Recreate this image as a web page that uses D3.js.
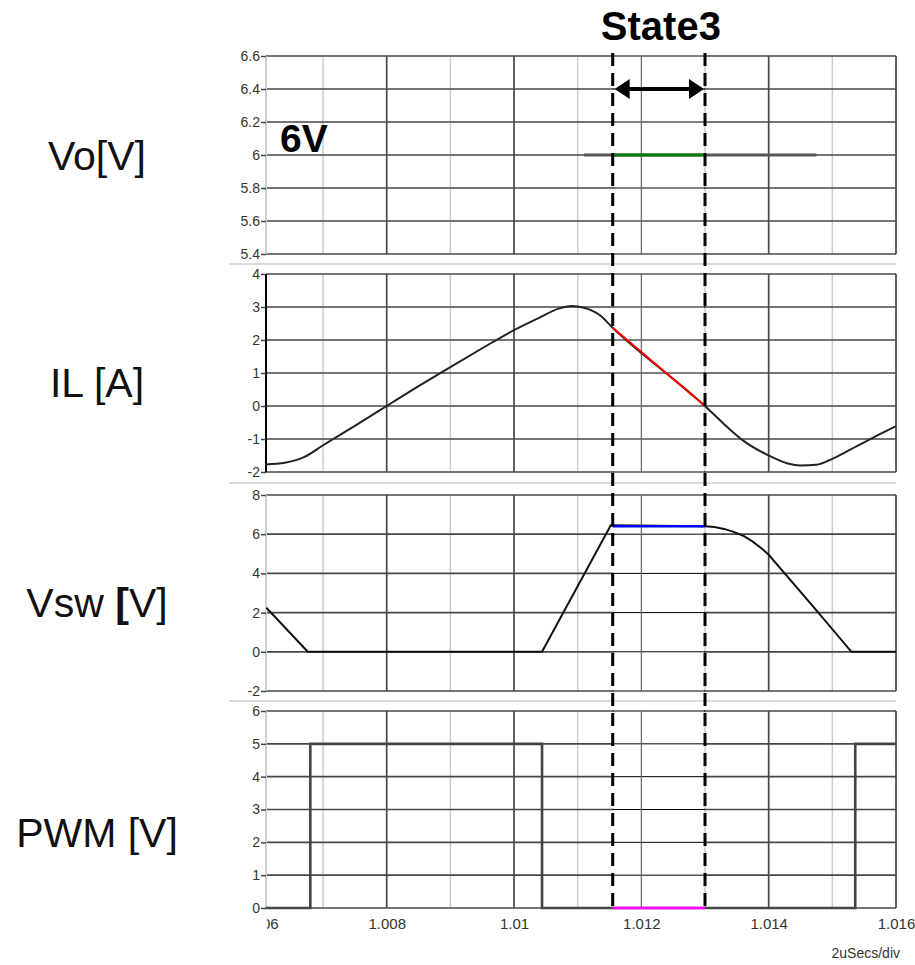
<!DOCTYPE html>
<html><head><meta charset="utf-8">
<script src="https://cdn.jsdelivr.net/npm/d3@7"></script>
<style>body{margin:0;background:#fff}svg{display:block;font-family:"Liberation Sans",Arial,sans-serif}</style>
</head><body><svg id="c" width="915" height="965"></svg>
<script>
// ---- data ----
const xDomain = [1.006104, 1.016];
const xMajor = [1.006, 1.008, 1.010, 1.012, 1.014, 1.016];
const xMajorLabels = ["1.006", "1.008", "1.01", "1.012", "1.014", "1.016"];
const xMinor = [1.007, 1.009, 1.011, 1.013, 1.015];
const stateWindow = [1.01155, 1.013];
const stateLabel = "State3";
const panelLabels = ["Vo[V]", "IL [A]", "Vsw [V]", "PWM [V]"];

const voTicks = [5.4, 5.6, 5.8, 6, 6.2, 6.4, 6.6];
const voTime = [1.0111, 1.01475];
const voValue = [6, 6];
const voStateValue = [6, 6];

const ilTicks = [-2, -1, 0, 1, 2, 3, 4];
const ilTime = [1.00610, 1.00640, 1.00670, 1.00700, 1.00750, 1.00800, 1.00850, 1.00900, 1.00950, 1.01000,
                1.01040, 1.01070, 1.01090, 1.01110, 1.01135, 1.01155, 1.01300, 1.01330, 1.01360, 1.01400,
                1.01430, 1.01450, 1.01475, 1.01500, 1.01540, 1.01570, 1.01600];
const ilValue = [-1.77, -1.72, -1.55, -1.19, -0.60, 0.00, 0.60, 1.18, 1.75, 2.30,
                 2.68, 2.95, 3.03, 2.98, 2.75, 2.37, 0.00, -0.55, -1.05, -1.50,
                 -1.74, -1.80, -1.78, -1.60, -1.20, -0.90, -0.61];
const ilStateValue = [2.37, 0.00];

const vswTicks = [-2, 0, 2, 4, 6, 8];
const vswTime = [1.00611, 1.00676, 1.01044, 1.01152, 1.01300, 1.01315, 1.01330, 1.01345, 1.01360,
                 1.01375, 1.01390, 1.01400, 1.01470, 1.01530, 1.01600];
const vswValue = [2.25, 0.0, 0.0, 6.45, 6.40, 6.37, 6.27, 6.12, 5.92,
                  5.62, 5.25, 4.95, 2.30, 0.0, 0.0];
const vswStateValue = [6.4, 6.4];

const pwmTicks = [0, 1, 2, 3, 4, 5, 6];
const pwmTime = [1.006104, 1.0068, 1.01044, 1.01536, 1.016];
const pwmValue = [0, 5, 0, 5, 5];
const pwmStateValue = [0, 0];

// ---- layout ----
const svg = d3.select("#c");
const X0 = 266, X1 = 896;
const x = d3.scaleLinear().domain(xDomain).range([X0, X1]);

const panels = [
  {ticks: voTicks, top: 56, bottom: 254, border: "#cfcfcf", label: panelLabels[0], lx: 97, ly: 170},
  {ticks: ilTicks, top: 274, bottom: 472, border: "#000", label: panelLabels[1], lx: 97, ly: 397},
  {ticks: vswTicks, top: 495, bottom: 691, border: "#cfcfcf", label: panelLabels[2], lx: 97, ly: 617},
  {ticks: pwmTicks, top: 711, bottom: 908, border: "#cfcfcf", label: panelLabels[3], lx: 97, ly: 847}
];
panels.forEach(p => {
  p.y = d3.scaleLinear().domain(d3.extent(p.ticks)).range([p.bottom, p.top]);
});

// separators
[264, 483, 701].forEach(yy => {
  svg.append("line").attr("x1", 229).attr("x2", X1).attr("y1", yy).attr("y2", yy)
    .attr("stroke", "#dcdcdc").attr("stroke-width", 2);
});

const sx0 = x(stateWindow[0]), sx1 = x(stateWindow[1]);

panels.forEach(p => {
  const g = svg.append("g");
  g.selectAll(".mn").data(xMinor).enter().append("line")
    .attr("x1", d => x(d)).attr("x2", d => x(d)).attr("y1", p.top).attr("y2", p.bottom)
    .attr("stroke", "#cccccc").attr("stroke-width", 1.5);
  g.selectAll(".mj").data(xMajor.filter(d => x(d) > X0 + 1)).enter().append("line")
    .attr("x1", d => x(d)).attr("x2", d => x(d)).attr("y1", p.top).attr("y2", p.bottom)
    .attr("stroke", "#474747").attr("stroke-width", 1.7);
  g.selectAll(".h").data(p.ticks).enter().append("line")
    .attr("x1", X0).attr("x2", X1).attr("y1", d => p.y(d)).attr("y2", d => p.y(d))
    .attr("stroke", "#474747").attr("stroke-width", 1.7);
  g.append("line").attr("x1", X0).attr("x2", X0).attr("y1", p.top).attr("y2", p.bottom)
    .attr("stroke", p.border).attr("stroke-width", 2);
  // state overlay
  g.append("rect").attr("x", sx0 + 1).attr("width", sx1 - sx0 - 2)
    .attr("y", p.top - 1).attr("height", p.bottom - p.top + 2).attr("fill", "#fff");
  g.selectAll(".hs").data(p.ticks).enter().append("line")
    .attr("x1", sx0).attr("x2", sx1).attr("y1", d => p.y(d)).attr("y2", d => p.y(d))
    .attr("stroke", "#000").attr("stroke-width", 1);
  g.append("line").attr("x1", x(1.012)).attr("x2", x(1.012)).attr("y1", p.top).attr("y2", p.bottom)
    .attr("stroke", "#666").attr("stroke-width", 1.2);
  // y axis
  const ax = g.append("g").attr("transform", `translate(${X0},0)`)
    .call(d3.axisLeft(p.y).tickValues(p.ticks).tickSize(5).tickPadding(1).tickFormat(d => String(d)));
  ax.select(".domain").remove();
  ax.selectAll("line").attr("stroke", "#444").attr("stroke-width", 1.5);
  ax.selectAll("text").attr("font-size", 14).attr("fill", "#333")
    .attr("font-family", "Liberation Sans, Arial, sans-serif");
  // panel label
  const t = svg.append("text").attr("x", p.lx).attr("y", p.ly).attr("text-anchor", "middle")
    .attr("font-size", 41).attr("fill", "#111");
  if (p.label === "Vsw [V]") {
    t.append("tspan").text("Vsw ");
    t.append("tspan").attr("font-weight", "bold").text("[");
    t.append("tspan").text("V]");
  } else {
    t.text(p.label);
  }
});

// ---- traces ----
const lineFn = (py, curve) => d3.line().x(d => x(d[0])).y(d => py(d[1])).curve(curve || d3.curveLinear);
const zip = (a, b) => a.map((t, i) => [t, b[i]]);
const pVo = panels[0], pIl = panels[1], pVsw = panels[2], pPwm = panels[3];

svg.append("path").attr("d", lineFn(pVo.y)(zip(voTime, voValue)))
  .attr("fill", "none").attr("stroke", "#555").attr("stroke-width", 3);
svg.append("path").attr("d", lineFn(pVo.y)(zip(stateWindow, voStateValue)))
  .attr("fill", "none").attr("stroke", "#0a7a0a").attr("stroke-width", 3);

svg.append("path").attr("d", lineFn(pIl.y, d3.curveMonotoneX)(zip(ilTime, ilValue)))
  .attr("fill", "none").attr("stroke", "#222").attr("stroke-width", 2);
svg.append("path").attr("d", lineFn(pIl.y)(zip(stateWindow, ilStateValue)))
  .attr("fill", "none").attr("stroke", "#ff0000").attr("stroke-width", 2);

svg.append("path").attr("d", lineFn(pVsw.y)(zip(vswTime, vswValue)))
  .attr("fill", "none").attr("stroke", "#111").attr("stroke-width", 2);
svg.append("path").attr("d", lineFn(pVsw.y)(zip(stateWindow, vswStateValue)))
  .attr("fill", "none").attr("stroke", "#0000ff").attr("stroke-width", 2.5);

svg.append("path").attr("d", lineFn(pPwm.y, d3.curveStepAfter)(zip(pwmTime, pwmValue)))
  .attr("fill", "none").attr("stroke", "#444").attr("stroke-width", 2.6);
svg.append("path").attr("d", lineFn(pPwm.y)(zip(stateWindow, pwmStateValue)))
  .attr("fill", "none").attr("stroke", "#ff00ff").attr("stroke-width", 2.6);

// ---- x axis ----
svg.append("clipPath").attr("id", "xclip").append("rect")
  .attr("x", X0 + 1).attr("y", 900).attr("width", 915 - X0).attr("height", 40);
const xa = svg.append("g").attr("clip-path", "url(#xclip)")
  .append("g").attr("transform", `translate(0,${pPwm.bottom})`)
  .call(d3.axisBottom(x).tickValues(xMajor).tickSize(0).tickPadding(10)
    .tickFormat((d, i) => xMajorLabels[i]));
xa.select(".domain").remove();
xa.selectAll("text").attr("font-size", 15).attr("fill", "#333")
  .attr("font-family", "Liberation Sans, Arial, sans-serif");

svg.append("text").attr("x", 900).attr("y", 958).attr("text-anchor", "end")
  .attr("font-size", 14).attr("fill", "#333").text("2uSecs/div");

// ---- annotations ----
[sx0, sx1].forEach(xx => {
  svg.append("line").attr("x1", xx).attr("x2", xx).attr("y1", 53).attr("y2", 910)
    .attr("stroke", "#000").attr("stroke-width", 3).attr("stroke-dasharray", "13,7");
});
const ay = pVo.y(6.4);
svg.append("line").attr("x1", sx0 + 12).attr("x2", sx1 - 12).attr("y1", ay).attr("y2", ay)
  .attr("stroke", "#000").attr("stroke-width", 4);
svg.append("path").attr("d", `M${sx0 + 2},${ay} L${sx0 + 17},${ay - 10} L${sx0 + 17},${ay + 10} Z`).attr("fill", "#000");
svg.append("path").attr("d", `M${sx1 - 1},${ay} L${sx1 - 16},${ay - 10} L${sx1 - 16},${ay + 10} Z`).attr("fill", "#000");

svg.append("text").attr("x", (sx0 + sx1) / 2 + 2).attr("y", 40).attr("text-anchor", "middle")
  .attr("font-size", 40).attr("font-weight", "bold").attr("fill", "#000").text(stateLabel);
svg.append("text").attr("x", 280).attr("y", 152)
  .attr("font-size", 39).attr("font-weight", "bold").attr("fill", "#000").text("6V");
</script></body></html>
